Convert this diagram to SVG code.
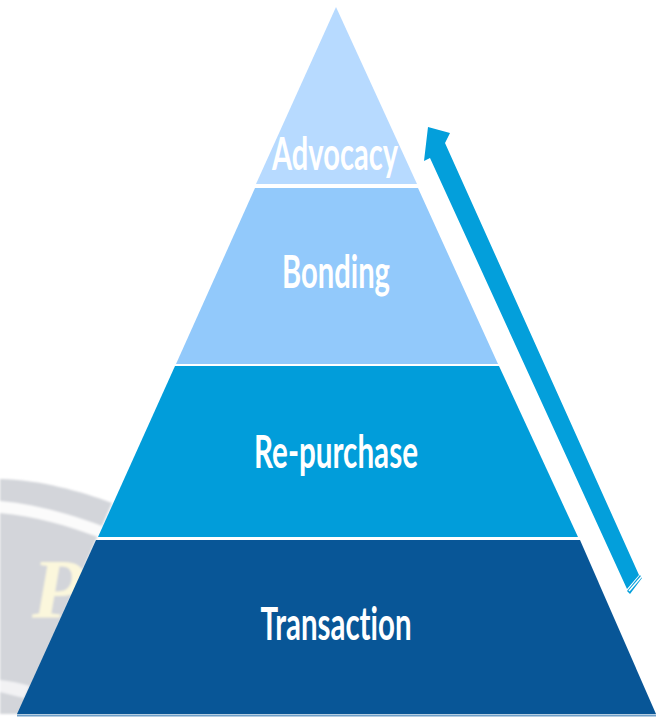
<svg xmlns="http://www.w3.org/2000/svg" width="661" height="717" viewBox="0 0 661 717">
<style>
.l{font-family:"Lato","Liberation Sans",sans-serif;font-weight:700;fill:#fff;text-anchor:middle;font-variant-ligatures:none;font-size:45px}
.a{fill:#039fdb}
</style>
<defs><filter id="b" x="-5%" y="-5%" width="110%" height="110%"><feGaussianBlur stdDeviation="0.8"/></filter></defs>
<rect width="661" height="717" fill="#fff"/>
<g id="watermark" filter="url(#b)">
<path d="M0 479C40 480 80 491 112 503L20 714H0Z" fill="#d3d5da"/>
<path d="M0 501C35 504 70 514 102 526L98 537C68 526 35 516 0 513Z" fill="#fbfbfb"/>
<path d="M0 680C10 681 20 683 30 686L24 698C15 696 8 694 0 692Z" fill="#f2f2f4"/>
<text x="32" y="618" font-family="Liberation Serif,serif" font-size="84" font-weight="700" font-style="italic" fill="#fbf7dc">P</text>
</g>
<g id="tier-advocacy"><path d="M336 7L417 184H256Z" fill="#b7daff"/><text class="l" x="335" y="170" textLength="126" lengthAdjust="spacingAndGlyphs">Advocacy</text></g>
<g id="tier-bonding"><path d="M255 188H418L498 364H176Z" fill="#92c9fb"/><text class="l" x="336" y="288" textLength="108" lengthAdjust="spacingAndGlyphs">Bonding</text></g>
<g id="tier-repurchase"><path d="M175 366H499L578 537H98Z" fill="#019dda"/><text class="l" x="336" y="468" textLength="164" lengthAdjust="spacingAndGlyphs">Re-purchase</text></g>
<g id="tier-transaction"><path d="M96 540H580L656 714H17Z" fill="#085697"/><path d="M17 715.500H656" stroke="#6f9fc8" stroke-width="2"/><text class="l" x="336" y="640" textLength="151" lengthAdjust="spacingAndGlyphs">Transaction</text></g>
<g id="connectors">
<path class="a" d="M428 127L450 133L445 143L639 575L627 589L430 158L424 161Z"/>
<path class="a" d="M642 578L630 594L627 591L640 575Z"/>
<path d="M629 591L642 576" stroke="#fff" stroke-width="1.500"/>
</g>
</svg>
